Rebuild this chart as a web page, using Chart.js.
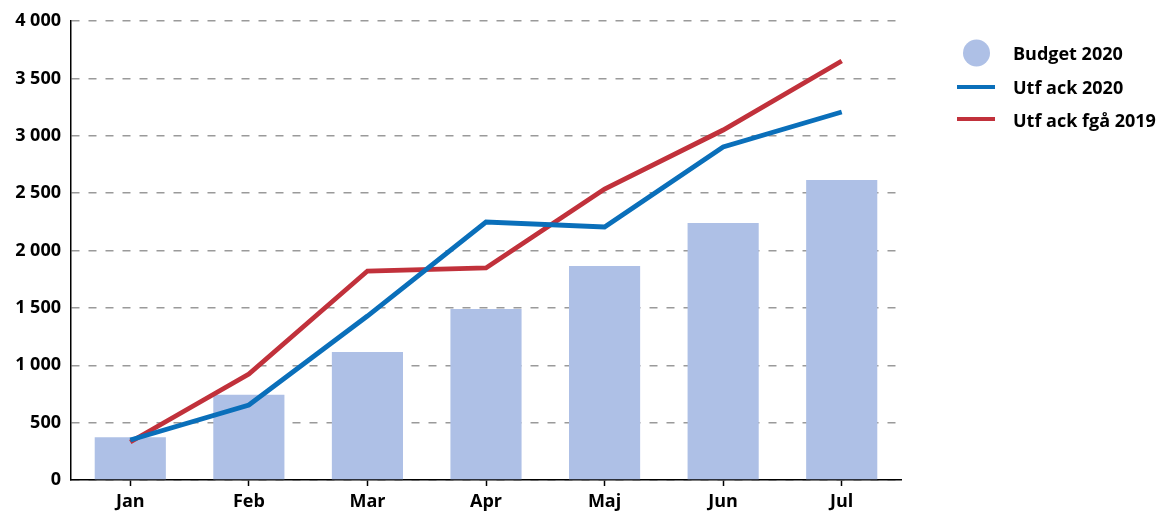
<!DOCTYPE html>
<html>
<head>
<meta charset="utf-8">
<script src="https://cdn.jsdelivr.net/npm/chart.js@4.4.1/dist/chart.umd.min.js"></script>
<style>
  html, body { margin: 0; padding: 0; background: #ffffff; }
  #wrap { width: 1163px; height: 511px; position: relative; }
</style>
</head>
<body>
<div id="wrap"><canvas id="c" width="1163" height="511"></canvas></div>
<script>
const months = ["Jan", "Feb", "Mar", "Apr", "Maj", "Jun", "Jul"];
const budget2020 = [372, 742, 1115, 1490, 1865, 2240, 2614];
const utfAck2020 = [349, 654, 1429, 2248, 2205, 2902, 3207];
const utfAckFga2019 = [331, 924, 1821, 1848, 2536, 3050, 3651];
const seriesNames = ["Budget 2020", "Utf ack 2020", "Utf ack fgå 2019"];
const yTicks = [0, 500, 1000, 1500, 2000, 2500, 3000, 3500, 4000];

const COL_BAR = "#aec0e6";
const COL_BLUE = "#0a6fba";
const COL_RED = "#c1313b";
const FONT = "'Open Sans', sans-serif";

const legendPlugin = {
  id: "customLegend",
  afterDraw(chart) {
    const ctx = chart.ctx;
    ctx.save();
    ctx.font = "bold 18px " + FONT;
    ctx.fillStyle = "#000";
    ctx.textBaseline = "middle";
    ctx.textAlign = "left";
    const textX = 1013;
    const rows = [55, 89, 122];
    ctx.beginPath();
    ctx.fillStyle = COL_BAR;
    ctx.arc(976.5, 53, 13.5, 0, Math.PI * 2);
    ctx.fill();
    ctx.lineWidth = 4;
    ctx.strokeStyle = COL_BLUE;
    ctx.beginPath(); ctx.moveTo(957, 87); ctx.lineTo(995, 87); ctx.stroke();
    ctx.strokeStyle = COL_RED;
    ctx.beginPath(); ctx.moveTo(957, 119); ctx.lineTo(995, 119); ctx.stroke();
    ctx.fillStyle = "#000";
    seriesNames.forEach((n, i) => ctx.fillText(n, textX, rows[i]));
    ctx.restore();
  }
};

new Chart(document.getElementById("c"), {
  type: "bar",
  data: {
    labels: months,
    datasets: [
      {
        type: "line",
        label: seriesNames[2],
        data: utfAckFga2019,
        borderColor: COL_RED,
        backgroundColor: COL_RED,
        borderWidth: 4.8,
        pointRadius: 0,
        tension: 0,
        order: 1
      },
      {
        type: "line",
        label: seriesNames[1],
        data: utfAck2020,
        borderColor: COL_BLUE,
        backgroundColor: COL_BLUE,
        borderWidth: 4.8,
        pointRadius: 0,
        tension: 0,
        order: 0
      },
      {
        type: "bar",
        label: seriesNames[0],
        data: budget2020,
        backgroundColor: COL_BAR,
        borderWidth: 0,
        categoryPercentage: 1.0,
        barPercentage: 0.6,
        order: 3
      }
    ]
  },
  options: {
    responsive: false,
    animation: false,
    devicePixelRatio: 1,
    layout: { padding: { top: 21, right: 262, left: 0, bottom: 0 } },
    plugins: {
      legend: { display: false },
      tooltip: { enabled: false },
      title: { display: false }
    },
    scales: {
      x: {
        offset: true,
        grid: {
          offset: false,
          drawOnChartArea: false,
          drawTicks: true,
          tickLength: 6,
          tickColor: "#000",
          tickWidth: 1.5
        },
        border: { display: true, color: "#000", width: 1.5 },
        ticks: {
          color: "#000",
          font: { family: FONT, size: 18, weight: "bold" },
          padding: 5,
          maxRotation: 0
        },
        afterFit(s) { s.height = 31; }
      },
      y: {
        min: 0,
        max: 4000,
        afterBuildTicks(s) { s.ticks = yTicks.map(v => ({ value: v })); },
        grid: {
          color: "#9a9a9a",
          lineWidth: 1.5,
          drawTicks: false
        },
        border: { display: true, color: "#000", width: 1.5, dash: [8, 9] },
        ticks: {
          color: "#000",
          font: { family: FONT, size: 18, weight: "bold" },
          padding: 10,
          callback: (v) => String(v).replace(/\B(?=(\d{3})+(?!\d))/g, " ")
        },
        afterFit(s) { s.width = 71; }
      }
    }
  },
  plugins: [legendPlugin]
});
</script>
</body>
</html>
